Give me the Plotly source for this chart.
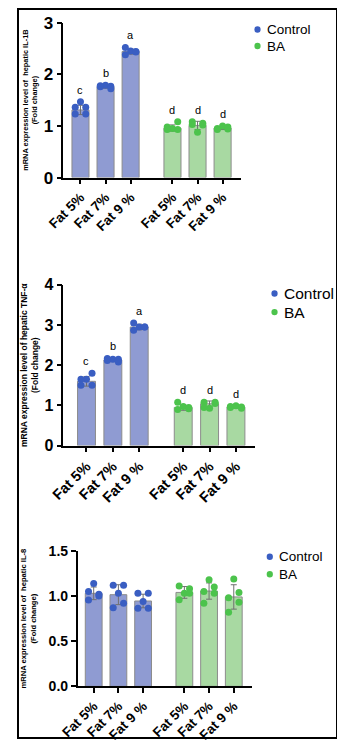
import plotly.graph_objects as go

W, H = 337, 748

categories = ["Fat 5%", "Fat 7%", "Fat 9 %"]
groups = ["Control", "BA"]

# Panel 1: IL-1B
il1b_mean = {"Control": [1.31, 1.76, 2.44], "BA": [0.96, 1.01, 0.96]}
il1b_sd = {"Control": [0.09, 0.03, 0.05], "BA": [0.06, 0.08, 0.03]}
il1b_pts = {
    "Control": [[1.47, 1.36, 1.36, 1.23, 1.23],
                [1.79, 1.78, 1.77, 1.76, 1.72],
                [2.45, 2.52, 2.44, 2.38, 2.43]],
    "BA": [[0.95, 0.98, 1.08, 0.93, 0.93],
           [0.88, 1.08, 1.05, 1.03, 1.02],
           [1.00, 0.95, 0.98, 0.93, 0.94]],
}
il1b_letters = {"Control": ["c", "b", "a"], "BA": ["d", "d", "d"]}

# Panel 2: TNF-alpha
tnf_mean = {"Control": [1.60, 2.13, 2.95], "BA": [0.95, 1.04, 0.96]}
tnf_sd = {"Control": [0.12, 0.04, 0.07], "BA": [0.07, 0.07, 0.03]}
tnf_pts = {
    "Control": [[1.65, 1.65, 1.80, 1.50, 1.50],
                [2.15, 2.17, 2.15, 2.12, 2.08],
                [2.95, 3.05, 2.95, 2.87, 2.95]],
    "BA": [[0.97, 1.08, 0.95, 0.90, 0.92],
           [0.93, 1.08, 1.08, 0.95, 1.05],
           [0.99, 0.97, 0.96, 0.95, 0.93]],
}
tnf_letters = {"Control": ["c", "b", "a"], "BA": ["d", "d", "d"]}

# Panel 3: IL-8
il8_mean = {"Control": [1.03, 1.015, 0.945], "BA": [1.04, 1.055, 0.99]}
il8_sd = {"Control": [0.07, 0.11, 0.075], "BA": [0.065, 0.09, 0.135]}
il8_pts = {
    "Control": [[1.14, 1.05, 1.00, 0.955, 1.02],
                [1.03, 1.12, 1.12, 0.87, 0.92],
                [0.94, 1.03, 1.03, 0.865, 0.865]],
    "BA": [[1.03, 1.11, 1.08, 0.96, 1.03],
           [1.18, 1.05, 1.10, 0.92, 1.03],
           [1.19, 0.98, 1.04, 0.82, 0.93]],
}

# ---------- style ----------
FONT = "Arial, Liberation Sans, sans-serif"
BAR_FILL = {"Control": "#8f9bd2", "BA": "#a8d9a2"}
DOT = {"Control": "#3a5ec2", "BA": "#4cc34c"}
POS = {"Control": [0, 1, 2], "BA": [3.67, 4.67, 5.67]}
JIT = [0.0, -0.21, 0.21, -0.21, 0.21]

def px_x(a, b):
    return [a / W, b / W]

def px_y(top, bottom):
    return [1 - bottom / H, 1 - top / H]

panels = [
    dict(mean=il1b_mean, sd=il1b_sd, pts=il1b_pts, letters=il1b_letters,
         title="mRNA expression level of  hepatic IL-1B<br>(Fold change)", tfs=7.4,
         standoff=5,
         xd=px_x(48, 236), yd=px_y(14, 173), xr=[-0.68, 6.42], yr=[0, 3],
         dtick=1, fmt="", tickfs=17, xfs=13.5, dotsize=7,
         legend=dict(mx=253, my=[21, 38], tx=262, fs=13.5)),
    dict(mean=tnf_mean, sd=tnf_sd, pts=tnf_pts, letters=tnf_letters,
         title="mRNA expression level of hepatic TNF-α<br>(Fold change)", tfs=8.5,
         standoff=5,
         xd=px_x(48, 250), yd=px_y(283, 448), xr=[-0.875, 6.38], yr=[0, 4],
         dtick=1, fmt="", tickfs=16, xfs=14.5, dotsize=7,
         legend=dict(mx=271, my=[292, 311], tx=280, fs=15.5)),
    dict(mean=il8_mean, sd=il8_sd, pts=il8_pts, letters=None,
         title="mRNA expression level of  hepatic IL-8<br>(Fold change)", tfs=7.6,
         standoff=11,
         xd=px_x(63, 247), yd=px_y(556, 695), xr=[-0.65, 6.40], yr=[0, 1.5],
         dtick=0.5, fmt=".1f", tickfs=14, xfs=13.5, dotsize=7,
         legend=dict(mx=266, my=[562, 580], tx=275, fs=13.5)),
]

fig = go.Figure()
annotations = []
shapes = [dict(type="rect", xref="paper", yref="paper", x0=0, y0=0, x1=1, y1=1,
               line=dict(color="black", width=2))]
layout = {}

for i, p in enumerate(panels):
    k = "" if i == 0 else str(i + 1)
    xa, ya = "x" + k, "y" + k
    for g in groups:
        fig.add_trace(go.Bar(
            x=POS[g], y=p["mean"][g], xaxis=xa, yaxis=ya, width=0.68, name=g,
            marker=dict(color=BAR_FILL[g], line=dict(color="#8c8c8c", width=1)),
            error_y=dict(type="data", array=p["sd"][g], color="#707070",
                         thickness=1, width=3),
            showlegend=False, hoverinfo="skip"))
    for g in groups:
        xs, ys = [], []
        for c, vals in zip(POS[g], p["pts"][g]):
            for j, v in enumerate(vals):
                xs.append(c + JIT[j])
                ys.append(v)
        fig.add_trace(go.Scatter(
            x=xs, y=ys, xaxis=xa, yaxis=ya, mode="markers", name=g,
            marker=dict(color=DOT[g], size=p["dotsize"]), showlegend=False))
        if p["letters"]:
            for c, vals, lt in zip(POS[g], p["pts"][g], p["letters"][g]):
                annotations.append(dict(
                    x=c, y=max(vals), xref=xa, yref=ya, text=lt,
                    showarrow=False, yshift=12, yanchor="middle",
                    font=dict(family=FONT, size=11, color="black")))
    # legend (dot + label)
    L = p["legend"]
    r = 3.3
    for g, my in zip(groups, L["my"]):
        shapes.append(dict(type="circle", xref="paper", yref="paper",
                           x0=(L["mx"] - r) / W, x1=(L["mx"] + r) / W,
                           y0=1 - (my + r) / H, y1=1 - (my - r) / H,
                           fillcolor=DOT[g], line=dict(width=0)))
        annotations.append(dict(x=L["tx"] / W, y=1 - my / H, xref="paper", yref="paper",
                                text=g, showarrow=False, xanchor="left", yanchor="middle",
                                borderpad=0,
                                font=dict(family=FONT, size=L["fs"], color="black")))
    layout["xaxis" + k] = dict(
        domain=p["xd"], anchor=ya, range=p["xr"],
        tickmode="array", tickvals=POS["Control"] + POS["BA"],
        ticktext=categories + categories, tickangle=-45,
        tickfont=dict(family=FONT, size=p["xfs"], color="black", weight="bold"),
        showline=True, linecolor="black", linewidth=1.5,
        ticks="outside", ticklen=5, tickwidth=1.5, tickcolor="black",
        showgrid=False, zeroline=False, fixedrange=True)
    layout["yaxis" + k] = dict(
        domain=p["yd"], anchor=xa, range=p["yr"], dtick=p["dtick"],
        tick0=0, tickformat=p["fmt"],
        tickfont=dict(family=FONT, size=p["tickfs"], color="black", weight="bold"),
        title=dict(text=p["title"], standoff=p["standoff"],
                   font=dict(family=FONT, size=p["tfs"], color="black", weight="bold")),
        showline=True, linecolor="black", linewidth=1.5,
        ticks="outside", ticklen=5, tickwidth=1.5, tickcolor="black",
        showgrid=False, zeroline=False, fixedrange=True)

fig.update_layout(
    width=W, height=H, autosize=False,
    margin=dict(l=0, r=0, t=0, b=0),
    paper_bgcolor="white", plot_bgcolor="white",
    barmode="overlay", showlegend=False,
    annotations=annotations,
    shapes=shapes,
    **layout,
)

fig.write_html("out.html")
